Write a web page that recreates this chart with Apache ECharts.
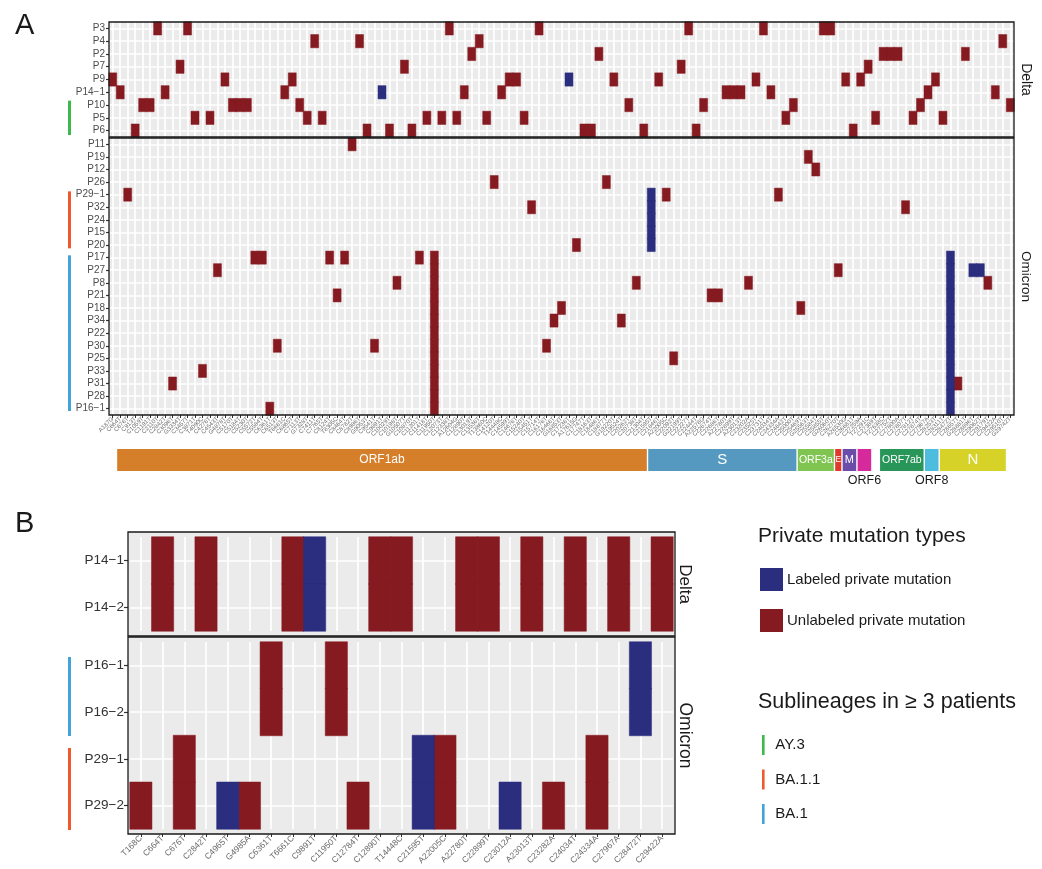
<!DOCTYPE html>
<html>
<head>
<meta charset="utf-8">
<script src="https://cdn.jsdelivr.net/npm/echarts@6/dist/echarts.min.js"></script>
<style>
  html, body { margin: 0; padding: 0; background: #fff; }
  #main { width: 1042px; height: 869px; }
</style>
</head>
<body>
<div id="main"></div>
<script>
// ---- panel A: rows (patients) ----
var deltaRowsA = ['P3', 'P4', 'P2', 'P7', 'P9', 'P14\u22121', 'P10', 'P5', 'P6'];
var omicronRowsA = ['P11', 'P19', 'P12', 'P26', 'P29\u22121', 'P32', 'P24', 'P15', 'P20', 'P17', 'P27', 'P8',
    'P21', 'P18', 'P34', 'P22', 'P30', 'P25', 'P33', 'P31', 'P28', 'P16\u22121'];

// ---- panel A: mutation columns (121), in genome order (most read approximately) ----
var mutationsA = [
    'A187G', 'C664T', 'C676T', 'C913T', 'C1059T', 'C1191T', 'C2110T', 'C2842T', 'C3096T', 'G3334T',
    'C3457T', 'C3871T', 'T4090C', 'C4276T', 'C4543T', 'G4878T', 'C5170T', 'C5184T', 'C5230T', 'C5572T',
    'C5584T', 'C6361T', 'C6513T', 'T6661C', 'C6865T', 'C7113T', 'G7328T', 'C7411T', 'C7765T', 'C8124T',
    'T8305C', 'C8464T', 'C8782T', 'C8986T', 'G9053T', 'C9541T', 'C9891T', 'C10029T', 'C10198T', 'G10507T',
    'C10870T', 'C11201T', 'C11418T', 'C11950T', 'C12073T', 'C12338T', 'A12604G', 'C12890T', 'C13019T', 'C13536T',
    'T13860C', 'C14120T', 'T14448C', 'C14599T', 'C14676T', 'C15240T', 'C15451T', 'C15714T', 'C16176T', 'C16466T',
    'G16853T', 'C17236T', 'A17615G', 'C17747T', 'C18163T', 'C18486T', 'C18877T', 'G19220T', 'C19524T', 'C20262T',
    'C20738T', 'C21304T', 'C21595T', 'C21846T', 'A22005C', 'C22092T', 'G22199T', 'C22227T', 'C22444T', 'A22578G',
    'C22674T', 'C22686T', 'A22780T', 'C22899T', 'A23013T', 'C23202A', 'C23525T', 'C23731T', 'C24034T', 'C24334A',
    'C24642T', 'C25000T', 'C25469T', 'G25563T', 'C25584T', 'C25855T', 'G26060T', 'C26270T', 'A26530G', 'C26681T',
    'C27259A', 'T27291C', 'C27389T', 'T27638C', 'C27752T', 'C27800A', 'C27807T', 'C27812T', 'C27874T', 'C27967A',
    'C28253T', 'C28311T', 'C28472T', 'C28657T', 'G28881T', 'C28896T', 'C29062T', 'C29179T', 'C29422A', 'C29510T',
    'G29742T'
];

// column indices of unlabeled (red) and labeled (blue) private mutations per patient
var deltaUnlabeledA = [
    ['P3', [6, 10, 45, 57, 77, 87, 95, 96]],
    ['P4', [27, 33, 49, 119]],
    ['P2', [48, 65, 103, 104, 105, 114]],
    ['P7', [9, 39, 76, 101]],
    ['P9', [0, 15, 24, 53, 54, 67, 73, 86, 98, 100, 110]],
    ['P14\u22121', [1, 7, 23, 47, 52, 82, 83, 84, 88, 109, 118]],
    ['P10', [4, 5, 16, 17, 18, 25, 69, 79, 91, 108, 120]],
    ['P5', [11, 13, 26, 28, 42, 44, 46, 50, 55, 90, 102, 107, 111]],
    ['P6', [3, 34, 37, 40, 63, 64, 71, 78, 99]]
];
var deltaLabeledA = [
    ['P9', [61]],
    ['P14\u22121', [36]]
];
var omicronUnlabeledA = [
    ['P11', [32]],
    ['P19', [93]],
    ['P12', [94]],
    ['P26', [51, 66]],
    ['P29\u22121', [2, 74, 89]],
    ['P32', [56, 106]],
    ['P20', [62]],
    ['P17', [19, 20, 29, 31, 41, 43]],
    ['P27', [14, 43, 97]],
    ['P8', [38, 43, 70, 85, 117]],
    ['P21', [30, 43, 80, 81]],
    ['P18', [43, 60, 92]],
    ['P34', [43, 59, 68]],
    ['P22', [43]],
    ['P30', [22, 35, 43, 58]],
    ['P25', [43, 75]],
    ['P33', [12, 43]],
    ['P31', [8, 43, 113]],
    ['P28', [43]],
    ['P16\u22121', [21, 43]]
];
var omicronLabeledA = [
    ['P29\u22121', [72]], ['P32', [72]], ['P24', [72]], ['P15', [72]], ['P20', [72]],
    ['P17', [112]], ['P27', [112, 115, 116]], ['P8', [112]], ['P21', [112]], ['P18', [112]],
    ['P34', [112]], ['P22', [112]], ['P30', [112]], ['P25', [112]], ['P33', [112]],
    ['P31', [112]], ['P28', [112]], ['P16\u22121', [112]]
];

// genes under panel A: first and last column covered
var geneNames = ['ORF1ab', 'S', 'ORF3a', 'E', 'M', 'ORF6', 'ORF7ab', 'ORF8', 'N'];
var geneStart = [1, 72, 92, 97, 98, 100, 103, 109, 111];
var geneEnd = [71, 91, 96, 97, 99, 101, 108, 110, 119];

// ---- panel B ----
var deltaRowsB = ['P14\u22121', 'P14\u22122'];
var omicronRowsB = ['P16\u22121', 'P16\u22122', 'P29\u22121', 'P29\u22122'];
var mutationsB = ['T168C', 'C664T', 'C676T', 'C2842T', 'C4965T', 'G4985A', 'C6361T', 'T6661C', 'C9891T',
    'C11950T', 'C12784T', 'C12890T', 'T14448C', 'C21595T', 'A22005C', 'A22780T', 'C22899T', 'C23012A',
    'A23013T', 'C23282A', 'C24034T', 'C24334A', 'C27967A', 'C28472T', 'C29422A'];
var p14Unlabeled = ['C664T', 'C2842T', 'T6661C', 'C12890T', 'T14448C', 'A22780T', 'C22899T', 'A23013T',
    'C24034T', 'C27967A', 'C29422A'];
var p14Labeled = ['C9891T'];
var p16Unlabeled = ['C6361T', 'C11950T'];
var p16Labeled = ['C28472T'];
var p29SharedUnlabeled = ['C676T', 'A22005C', 'C24334A'];
var p29SharedLabeled = ['C21595T'];
var p29_2Unlabeled = ['T168C', 'G4985A', 'C12784T', 'C23282A'];
var p29_2Labeled = ['C4965T', 'C23012A'];

// sublineages (rows marked at left)
var lineageNames = ['AY.3', 'BA.1.1', 'BA.1'];
var lineageColors = ['#3DB94B', '#EF5A2C', '#41A3D7'];
var lineageRowsA = [['P10', 'P6'], ['P29\u22121', 'P20'], ['P17', 'P16\u22121']];
var lineageRowsB = [null, ['P29\u22121', 'P29\u22122'], ['P16\u22121', 'P16\u22122']];

var RED = '#861A21';
var BLUE = '#2B2D7E';
var FONT = 'Liberation Sans, Arial, Helvetica, sans-serif';
var geneColors = ['#D67F2B', '#5599C0', '#80C451', '#E0382B', '#6A4CA9', '#D62A9C', '#289559', '#4EBCDF', '#D6D227'];
var geneLabelBelow = ['ORF6', 'ORF8'];
var geneLabelSize = {ORF1ab: 12, S: 15, ORF3a: 10.5, E: 8.5, M: 11, ORF6: 12.5, ORF7ab: 10.5, ORF8: 12.5, N: 15};

function rowCells(list, rows) {
    var out = [];
    list.forEach(function (r) {
        var y = rows.indexOf(r[0]);
        r[1].forEach(function (c) { out.push([c, y, 1]); });
    });
    return out;
}
function nameCells(names, rowNames, rows) {
    var out = [];
    rowNames.forEach(function (rn) {
        var y = rows.indexOf(rn);
        names.forEach(function (m) { out.push([mutationsB.indexOf(m), y, 1]); });
    });
    return out;
}

var chart = echarts.init(document.getElementById('main'));

var L = {
    aLeft: 109, aWidth: 905, dTop: 22, dH: 115, oTop: 138, oH: 277,
    gTop: 449, gH: 22,
    bLeft: 128, bWidth: 547, bdTop: 532, bdH: 104, boTop: 637, boH: 197, padX: 2, padY: 5
};

function splitWhite(w) {
    return {show: true, interval: 0, alignWithLabel: true, lineStyle: {color: '#ffffff', width: w}};
}
function catX(grid, data, labels, fs, offset) {
    return {
        type: 'category', gridIndex: grid, data: data, offset: offset || 0,
        axisLine: {show: false},
        axisTick: {show: labels, interval: 0, alignWithLabel: true, length: 3, lineStyle: {color: '#333', width: 1}},
        axisLabel: {show: labels, interval: 0, rotate: 45, fontSize: fs, color: '#6a6a6a', margin: 3, fontFamily: FONT},
        splitLine: splitWhite(1.7)
    };
}
function catY(grid, data, fs, color, tickLen, offset) {
    return {
        type: 'category', gridIndex: grid, data: data, inverse: true, offset: offset || 0,
        axisLine: {show: false},
        axisTick: {show: true, interval: 0, alignWithLabel: true, length: tickLen, lineStyle: {color: '#333', width: 1.2}},
        axisLabel: {interval: 0, fontSize: fs, color: color, margin: 4, fontFamily: FONT},
        splitLine: splitWhite(1.7)
    };
}
function hiddenValue(grid, max) {
    return {type: 'value', gridIndex: grid, min: 0, max: max, show: false, splitLine: {show: false}};
}
function tiles(name, grid, data, color) {
    return {
        type: 'heatmap', name: name, xAxisIndex: grid, yAxisIndex: grid, data: data,
        itemStyle: {color: color, borderColor: color, borderWidth: 0.5},
        emphasis: {disabled: true}, silent: true
    };
}
function lineageSeries(k, grid, rows, range, offset, insetTop, insetBottom) {
    return {
        type: 'custom', name: lineageNames[k], xAxisIndex: grid, yAxisIndex: grid, clip: false, silent: true,
        itemStyle: {color: lineageColors[k]},
        encode: {x: 0, y: 1},
        data: [[0, rows.indexOf(range[0]), rows.indexOf(range[1])]],
        renderItem: function (params, api) {
            var band = api.size([0, 1])[1];
            var y0 = api.coord([0, api.value(1)])[1] - band / 2 + insetTop;
            var y1 = api.coord([0, api.value(2)])[1] + band / 2 - insetBottom;
            return {
                type: 'rect',
                shape: {x: params.coordSys.x - offset, y: y0, width: 3, height: y1 - y0},
                style: {fill: lineageColors[k]}
            };
        }
    };
}

var series = [
    tiles('Unlabeled private mutation', 0, rowCells(deltaUnlabeledA, deltaRowsA), RED),
    tiles('Labeled private mutation', 0, rowCells(deltaLabeledA, deltaRowsA), BLUE),
    tiles('Unlabeled private mutation', 1, rowCells(omicronUnlabeledA, omicronRowsA), RED),
    tiles('Labeled private mutation', 1, rowCells(omicronLabeledA, omicronRowsA), BLUE),
    {
        type: 'custom', xAxisIndex: 2, yAxisIndex: 2, silent: true, clip: false,
        data: geneNames.map(function (g, i) { return [geneStart[i], geneEnd[i] + 1, i]; }),
        renderItem: function (params, api) {
            var i = api.value(2);
            var p0 = api.coord([api.value(0), 1]);
            var p1 = api.coord([api.value(1), 0]);
            var name = geneNames[i];
            var below = geneLabelBelow.indexOf(name) >= 0;
            var cx = (p0[0] + p1[0]) / 2;
            return {
                type: 'group',
                children: [{
                    type: 'rect',
                    shape: {x: p0[0] + 0.7, y: p0[1], width: p1[0] - p0[0] - 1.4, height: p1[1] - p0[1]},
                    style: {fill: geneColors[i]}
                }, {
                    type: 'text',
                    style: {
                        text: name, x: cx, y: below ? p1[1] + 3 : (p0[1] + p1[1]) / 2,
                        align: 'center', verticalAlign: below ? 'top' : 'middle',
                        fill: below ? '#1a1a1a' : '#ffffff',
                        font: geneLabelSize[name] + 'px ' + FONT
                    }
                }]
            };
        }
    },
    tiles('Unlabeled private mutation', 5, nameCells(p14Unlabeled, deltaRowsB, deltaRowsB), RED),
    tiles('Labeled private mutation', 5, nameCells(p14Labeled, deltaRowsB, deltaRowsB), BLUE),
    tiles('Unlabeled private mutation', 6,
        nameCells(p16Unlabeled, ['P16\u22121', 'P16\u22122'], omicronRowsB)
            .concat(nameCells(p29SharedUnlabeled, ['P29\u22121', 'P29\u22122'], omicronRowsB))
            .concat(nameCells(p29_2Unlabeled, ['P29\u22122'], omicronRowsB)), RED),
    tiles('Labeled private mutation', 6,
        nameCells(p16Labeled, ['P16\u22121', 'P16\u22122'], omicronRowsB)
            .concat(nameCells(p29SharedLabeled, ['P29\u22121', 'P29\u22122'], omicronRowsB))
            .concat(nameCells(p29_2Labeled, ['P29\u22122'], omicronRowsB)), BLUE),
    lineageSeries(0, 0, deltaRowsA, lineageRowsA[0], 41, 2, 2),
    lineageSeries(1, 1, omicronRowsA, lineageRowsA[1], 41, 3, 3),
    lineageSeries(2, 1, omicronRowsA, lineageRowsA[2], 41, 4, 4),
    lineageSeries(1, 6, omicronRowsB, lineageRowsB[1], 62, 12.5, -1),
    lineageSeries(2, 6, omicronRowsB, lineageRowsB[2], 62, 15, -0.5)
];

function frame(x, y, w, h) {
    return {type: 'rect', shape: {x: x, y: y, width: w, height: h}, z: 100, silent: true,
        style: {fill: null, stroke: '#1a1a1a', lineWidth: 1.3}};
}
function label(text, x, y, size, rotate) {
    return {type: 'text', x: x, y: y, rotation: rotate || 0, z: 100, silent: true,
        style: {text: text, font: size + 'px ' + FONT, fill: '#1a1a1a',
            align: rotate ? 'center' : 'left', verticalAlign: 'middle'}};
}

chart.setOption({
    animation: false,
    backgroundColor: '#ffffff',
    textStyle: {fontFamily: FONT},
    grid: [
        {left: L.aLeft, top: L.dTop, width: L.aWidth, height: L.dH, show: true, backgroundColor: '#EBEBEB', borderWidth: 0, outerBoundsMode: 'none'},
        {left: L.aLeft, top: L.oTop, width: L.aWidth, height: L.oH, show: true, backgroundColor: '#EBEBEB', borderWidth: 0, outerBoundsMode: 'none'},
        {left: L.aLeft, top: L.gTop, width: L.aWidth, height: L.gH, show: false, outerBoundsMode: 'none'},
        {left: L.bLeft, top: L.bdTop, width: L.bWidth, height: L.bdH, show: true, backgroundColor: '#EBEBEB', borderWidth: 0, outerBoundsMode: 'none'},
        {left: L.bLeft, top: L.boTop, width: L.bWidth, height: L.boH, show: true, backgroundColor: '#EBEBEB', borderWidth: 0, outerBoundsMode: 'none'},
        {left: L.bLeft + L.padX, top: L.bdTop + L.padY, width: L.bWidth - 2 * L.padX, height: L.bdH - 2 * L.padY, outerBoundsMode: 'none'},
        {left: L.bLeft + L.padX, top: L.boTop + L.padY, width: L.bWidth - 2 * L.padX, height: L.boH - 2 * L.padY, outerBoundsMode: 'none'}
    ],
    xAxis: [
        catX(0, mutationsA, false, 6),
        catX(1, mutationsA, true, 6),
        hiddenValue(2, mutationsA.length),
        hiddenValue(3, 1),
        hiddenValue(4, 1),
        catX(5, mutationsB, false, 8.5),
        catX(6, mutationsB, true, 8.5, L.padY)
    ],
    yAxis: [
        catY(0, deltaRowsA, 10, '#4d4d4d', 3),
        catY(1, omicronRowsA, 10, '#4d4d4d', 3),
        hiddenValue(2, 1),
        hiddenValue(3, 1),
        hiddenValue(4, 1),
        catY(5, deltaRowsB, 13.5, '#333333', 4, L.padX),
        catY(6, omicronRowsB, 13.5, '#333333', 4, L.padX)
    ],
    legend: [{
        left: 760, top: 568, padding: 0, orient: 'vertical', itemWidth: 21, itemHeight: 21, itemGap: 18,
        icon: 'rect', selectedMode: false,
        textStyle: {fontSize: 15, color: '#1a1a1a', fontFamily: FONT},
        data: ['Labeled private mutation', 'Unlabeled private mutation']
    }, {
        left: 757, top: 730, orient: 'vertical', itemWidth: 14, itemHeight: 20, itemGap: 14.5,
        icon: 'path://M6,0 h2.6 v20 h-2.6 z', selectedMode: false,
        textStyle: {fontSize: 15, color: '#1a1a1a', fontFamily: FONT},
        data: lineageNames
    }],
    graphic: [
        label('A', 15, 26, 29),
        label('B', 15, 524, 29),
        label('Private mutation types', 758, 536, 21),
        label('Sublineages in \u2265 3 patients', 758, 702, 21.5),
        label('Delta', 1026, L.dTop + L.dH / 2, 14, -Math.PI / 2),
        label('Omicron', 1026, L.oTop + L.oH / 2, 13.5, -Math.PI / 2),
        label('Delta', 685, L.bdTop + L.bdH / 2, 17, -Math.PI / 2),
        label('Omicron', 685, L.boTop + L.boH / 2, 17.5, -Math.PI / 2),
        frame(L.aLeft, L.dTop, L.aWidth, L.dH),
        frame(L.aLeft, L.oTop, L.aWidth, L.oH),
        frame(L.bLeft, L.bdTop, L.bWidth, L.bdH),
        frame(L.bLeft, L.boTop, L.bWidth, L.boH)
    ],
    series: series
});
</script>
</body>
</html>
